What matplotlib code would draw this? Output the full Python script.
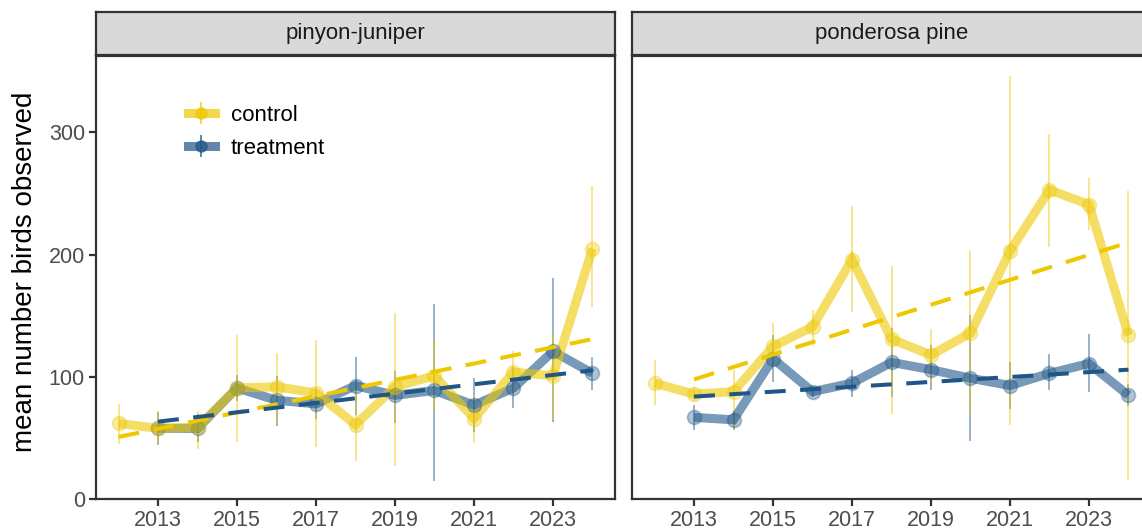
import numpy as np
import matplotlib
matplotlib.use("Agg")
import matplotlib.pyplot as plt

plt.rcParams['font.family'] = ['Liberation Sans', 'DejaVu Sans']

# ---------------- data ----------------
years = [2012, 2013, 2014, 2015, 2016, 2017, 2018, 2019, 2020, 2021, 2022, 2023, 2024]
panels = ["pinyon-juniper", "ponderosa pine"]
groups = ["control", "treatment"]

pj_control_mean = [62, 58, 59, 91, 92, 87, 61, 92, 101, 66, 104, 101, 205]
pj_control_hi = [78, 72, 72, 134, 120, 130, 91, 152, 130, 85, 121, 135, 256]
pj_control_lo = [45, 45, 41, 47, 62, 43, 31, 27, 72, 46, 87, 65, 157]

pj_treat_mean = [np.nan, 58, 58, 91, 81, 78, 93, 85, 89, 77, 91, 121, 103]
pj_treat_hi = [np.nan, 71, 70, 102, 101, 90, 116, 105, 160, 99, 108, 181, 116]
pj_treat_lo = [np.nan, 44, 47, 80, 60, 66, 69, 62, 15, 55, 75, 63, 89]

pp_control_mean = [95, 86, 88, 125, 141, 196, 131, 118, 136, 203, 253, 241, 134]
pp_control_hi = [114, 92, 106, 144, 155, 240, 191, 139, 203, 346, 299, 263, 252]
pp_control_lo = [77, 80, 57, 108, 125, 153, 70, 95, 70, 61, 206, 220, 16]

pp_treat_mean = [np.nan, 67, 65, 115, 88, 95, 112, 106, 99, 93, 103, 111, 85]
pp_treat_hi = [np.nan, 77, 72, 134, 92, 106, 140, 126, 151, 112, 119, 135, 94]
pp_treat_lo = [np.nan, 57, 57, 96, 84, 84, 84, 89, 48, 74, 89, 88, 76]

# linear trend end points (year, value)
pj_control_trend_x = [2012, 2024]
pj_control_trend_y = [51, 131]
pj_treat_trend_x = [2013, 2024]
pj_treat_trend_y = [63.5, 105.5]
pp_control_trend_x = [2013, 2024]
pp_control_trend_y = [98, 210]
pp_treat_trend_x = [2013, 2024]
pp_treat_trend_y = [84, 106]

xticks = [2013, 2015, 2017, 2019, 2021, 2023]
yticks = [0, 100, 200, 300]

# ---------------- style ----------------
col = {"control": "#EEC800", "treatment": "#1F5587"}
W, H = 1142, 531
fig = plt.figure(figsize=(W / 100, H / 100), dpi=100)

def fx(px):
    return px / W

def fy(py):
    return 1 - py / H

ax_w = 519
panel_left = [96, 632]
top, bottom = 56, 499.3
strip_top, strip_bot = 12.3, 55

data = {
    "pinyon-juniper": {
        "control": (pj_control_mean, pj_control_lo, pj_control_hi, pj_control_trend_x, pj_control_trend_y),
        "treatment": (pj_treat_mean, pj_treat_lo, pj_treat_hi, pj_treat_trend_x, pj_treat_trend_y),
    },
    "ponderosa pine": {
        "control": (pp_control_mean, pp_control_lo, pp_control_hi, pp_control_trend_x, pp_control_trend_y),
        "treatment": (pp_treat_mean, pp_treat_lo, pp_treat_hi, pp_treat_trend_x, pp_treat_trend_y),
    },
}

border_col = "#333333"
handles = {}
for i, name in enumerate(panels):
    L = panel_left[i]
    ax = fig.add_axes([fx(L), fy(bottom), fx(ax_w), (bottom - top) / H])
    yrs = np.array(years, dtype=float)
    for g in ["treatment", "control"]:
        m, lo, hi, tx, ty = data[name][g]
        m = np.array(m, dtype=float)
        lo = np.array(lo, dtype=float)
        hi = np.array(hi, dtype=float)
        ok = ~np.isnan(m)
        ax.vlines(yrs[ok], lo[ok], hi[ok], color=col[g], lw=1.4, alpha=0.45, zorder=2)
        ax.plot(yrs[ok], m[ok], color=col[g], lw=6.5, alpha=0.6, solid_capstyle="butt",
                solid_joinstyle="miter", zorder=3)
        ax.plot(yrs[ok], m[ok], ls="none", marker="o", ms=10, mfc=col[g], mec=col[g],
                mew=1.2, alpha=0.35, zorder=4)
    for g in ["control", "treatment"]:
        m, lo, hi, tx, ty = data[name][g]
        ax.plot(tx, ty, color=col[g], lw=2.9, dashes=(5.2, 3.6), zorder=5)
    if i == 0:
        for g in ["control", "treatment"]:
            h = ax.errorbar([np.nan], [np.nan], yerr=[[1], [1]], color=col[g], lw=6.5,
                            marker="o", ms=8, elinewidth=1.4, ecolor=col[g], alpha=0.7)
            handles[g] = h
    ax.set_xlim(2011.43, 2024.57)
    ax.set_ylim(0, 362.5)
    ax.set_xticks(xticks)
    ax.set_yticks(yticks)
    ax.tick_params(axis="both", direction="out", length=5, width=1.6, color=border_col,
                   labelsize=15.5, labelcolor="#4D4D4D", pad=3)
    ax.tick_params(axis="x", pad=2.6)
    if i == 1:
        ax.tick_params(axis="y", left=False, labelleft=False)
    for s in ax.spines.values():
        s.set_color(border_col)
        s.set_linewidth(1.6)
    # strip
    sax = fig.add_axes([fx(L), fy(strip_bot), fx(ax_w), (strip_bot - strip_top) / H])
    sax.set_facecolor("#D9D9D9")
    sax.set_xticks([])
    sax.set_yticks([])
    for s in sax.spines.values():
        s.set_color(border_col)
        s.set_linewidth(1.6)
    sax.text(0.5, 0.5, name, ha="center", va="center", fontsize=16, color="#1A1A1A",
             transform=sax.transAxes)
    if i == 0:
        leg = ax.legend([handles["control"], handles["treatment"]], groups,
                        loc="upper left", bbox_to_anchor=(0.155, 0.915), frameon=False,
                        fontsize=16, handlelength=1.25, handletextpad=0.7,
                        labelspacing=0.55, borderpad=0)

fig.text(fx(25), fy(272), "mean number birds observed", rotation=90, ha="center",
         va="center", fontsize=20, color="#000000")

fig.savefig("out.png", dpi=100)
